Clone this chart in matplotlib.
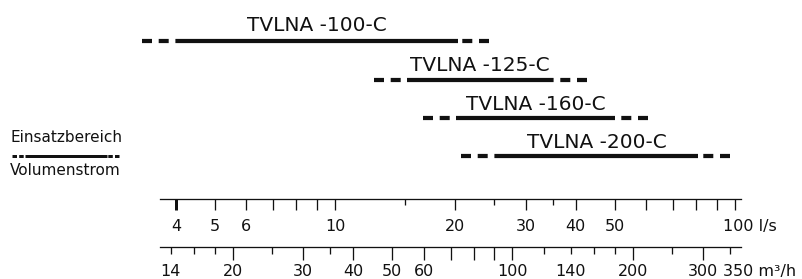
import matplotlib
matplotlib.use('Agg')
import matplotlib.pyplot as plt
from matplotlib.lines import Line2D
import numpy as np

plt.rcParams['font.family'] = 'DejaVu Sans'
plt.rcParams['lines.scale_dashes'] = False

# operating ranges in l/s (dashed = extended range, solid = normal range)
models = ['TVLNA -100-C', 'TVLNA -125-C', 'TVLNA -160-C', 'TVLNA -200-C']
range_min = [3.3, 12.5, 16.6, 20.7]
solid_min = [4.0, 15.1, 20.1, 25.3]
solid_max = [20.3, 35.1, 50.1, 80.9]
range_max = [24.2, 42.6, 60.7, 97.2]

# l/s scale
ls_major = [4, 5, 6, 7, 8, 9, 10, 20, 30, 40, 50, 60, 70, 80, 90, 100]
ls_major_labels = ['4', '5', '6', '', '', '', '10', '20', '30', '40', '50', '', '', '', '', '']
ls_minor = [15, 25, 35]

# m3/h scale
mh_major = [20, 30, 40, 50, 60, 70, 80, 90, 100, 200, 300]
mh_major_labels = ['20', '30', '40', '50', '60', '', '', '', '100', '200', '300']
mh_minor = [14, 16, 18, 25, 35, 120, 140, 160, 180, 250, 350]
mh_minor_labels = ['14', '', '', '', '', '', '140', '', '', '', '']
LS_TO_MH = 3.6

INK = '#111111'
W, H, DPI = 802, 279, 100
PT = 72 / DPI          # points per pixel
X10, DEC = 335, 400    # pixel of 10 l/s, pixels per decade
TICK_FS = 11.5


def q_at(px):
    return 10 * 10 ** ((px - X10) / DEC)


fig = plt.figure(figsize=(W / DPI, H / DPI), dpi=DPI)

# bars
ax = fig.add_axes([0, 0, 1, 1])
ax.set_xscale('log')
ax.set_xlim(q_at(0), q_at(W))
row_px, top_px = 38.3, 41.3
ax.set_ylim((H - top_px) / row_px, -top_px / row_px)
ax.axis('off')

LW = 4.2 * PT
DASH = (0, (10 * PT, 6.7 * PT))
label_gap = [10.3, 8.5, 8.0, 8.0]
for i, name in enumerate(models):
    ax.plot([solid_min[i], solid_max[i]], [i, i], color=INK, lw=LW, solid_capstyle='butt')
    ax.plot([range_min[i], solid_min[i]], [i, i], color=INK, lw=LW, ls=DASH, dash_capstyle='butt')
    ax.plot([range_max[i], solid_max[i]], [i, i], color=INK, lw=LW, ls=DASH, dash_capstyle='butt')
    xc = np.sqrt(solid_min[i] * solid_max[i])
    ax.annotate(name, xy=(xc, i), xytext=(0, label_gap[i]), textcoords='offset pixels',
                ha='center', va='baseline', fontsize=14.5, color=INK)


def scale_axis(y_px, lo, hi, major, major_labels, minor, minor_labels,
               long_px, short_px, pad_px):
    a = fig.add_axes([160 / W, 1 - y_px / H, 581 / W, 2 / H])
    a.set_xscale('log')
    a.set_xlim(lo, hi)
    a.patch.set_visible(False)
    for s in ['top', 'left', 'right']:
        a.spines[s].set_visible(False)
    a.spines['bottom'].set_linewidth(1.3 * PT)
    a.spines['bottom'].set_color(INK)
    a.set_yticks([])
    a.set_xticks(major, major_labels)
    a.set_xticks(minor, minor_labels, minor=True)
    a.tick_params(axis='x', which='major', length=long_px * PT, width=1.3 * PT,
                  pad=pad_px * PT, labelsize=TICK_FS, color=INK, labelcolor=INK)
    a.tick_params(axis='x', which='minor', length=short_px * PT, width=1.3 * PT,
                  pad=(pad_px + long_px - short_px) * PT, labelsize=TICK_FS,
                  color=INK, labelcolor=INK)
    return a


ax_ls = scale_axis(199, q_at(160), q_at(741), ls_major, ls_major_labels,
                   ls_minor, [''] * len(ls_minor), 11, 6, 9)
ax_ls.xaxis.get_major_ticks()[0].tick1line.set_markeredgewidth(3 * PT)
ax_ls.annotate('100 l/s', xy=(100, 0), xycoords=('data', 'axes fraction'),
               xytext=(-12, -(11 + 9)), textcoords='offset pixels',
               ha='left', va='top', fontsize=TICK_FS, color=INK)

ax_mh = scale_axis(247, q_at(160) * LS_TO_MH, q_at(741) * LS_TO_MH, mh_major, mh_major_labels,
                   mh_minor, mh_minor_labels, 13, 6.7, 4.0)
ax_mh.annotate('350 m³/h', xy=(350, 0), xycoords=('data', 'axes fraction'),
               xytext=(-7, -(13 + 4.0)), textcoords='offset pixels',
               ha='left', va='top', fontsize=TICK_FS, color=INK)

# legend
fig.text(10 / W, 1 - 141.7 / H, 'Einsatzbereich', va='baseline', fontsize=11, color=INK)
fig.text(10 / W, 1 - 175 / H, 'Volumenstrom', va='baseline', fontsize=11, color=INK)
ly = 1 - 155.5 / H
LEG_DASH = (0, (4.5 * PT, 2.2 * PT))
fig.add_artist(Line2D([25 / W, 107 / W], [ly, ly], color=INK, lw=3 * PT,
                      solid_capstyle='butt', transform=fig.transFigure))
fig.add_artist(Line2D([11.5 / W, 25 / W], [ly, ly], color=INK, lw=3 * PT, ls=LEG_DASH,
                      dash_capstyle='butt', transform=fig.transFigure))
fig.add_artist(Line2D([119.5 / W, 107 / W], [ly, ly], color=INK, lw=3 * PT, ls=LEG_DASH,
                      dash_capstyle='butt', transform=fig.transFigure))

fig.savefig('out.png', dpi=DPI)
